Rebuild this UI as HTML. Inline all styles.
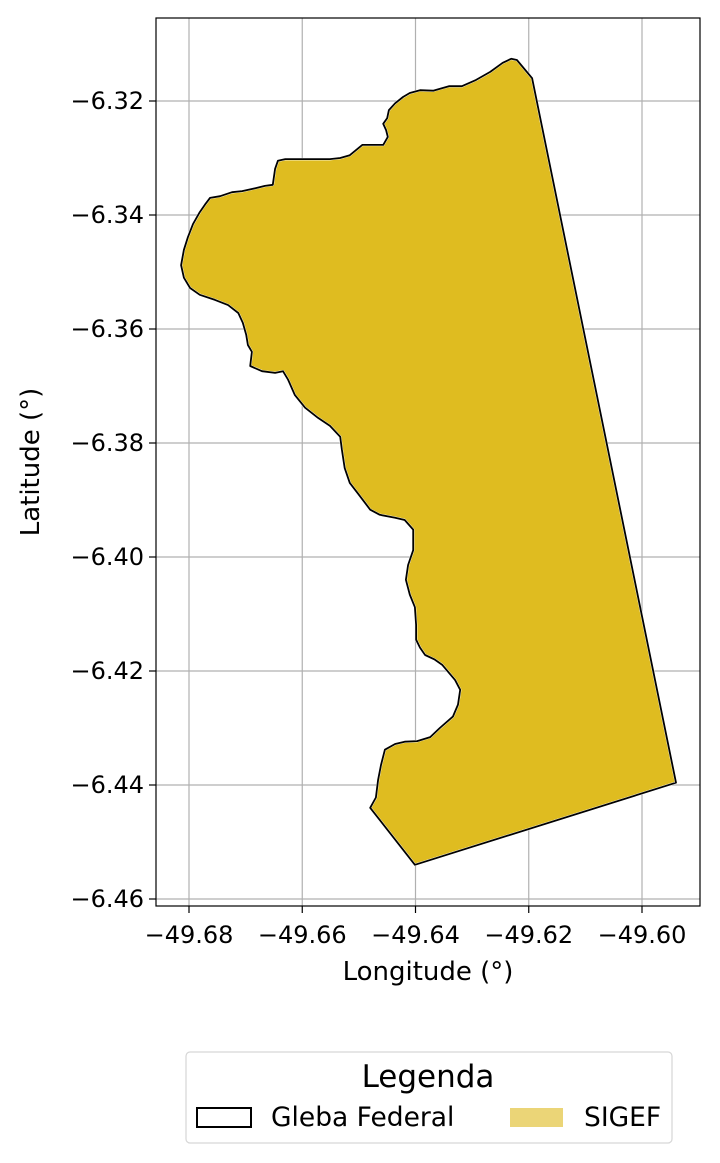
<!DOCTYPE html>
<html><head><meta charset="utf-8"><style>
html,body{margin:0;padding:0;background:#fff;}
svg{display:block;font-family:"DejaVu Sans","Liberation Sans",sans-serif;}
</style></head><body>
<svg id="chart" width="720" height="1163" viewBox="0 0 720 1163">
<g id="grid"></g>
<g id="shapes"></g>
<rect x="156" y="18" width="544" height="888" fill="none" stroke="#000" stroke-width="1.2"/>
<g id="ticks"></g>
<text x="428" y="980" font-size="26" text-anchor="middle">Longitude (°)</text>
<text transform="translate(39,462) rotate(-90)" font-size="26" text-anchor="middle">Latitude (°)</text>
<g>
<rect x="186" y="1052" width="486" height="91" rx="4" fill="#fff" stroke="#d6d6d6" stroke-width="1.2"/>
<text x="428" y="1087" font-size="31" text-anchor="middle">Legenda</text>
<rect x="197" y="1108" width="54" height="19" fill="#fff" stroke="#000" stroke-width="2"/>
<text x="271" y="1126" font-size="26.5">Gleba Federal</text>
<rect x="510" y="1108" width="53" height="19" fill="#ebd577"/>
<text x="584" y="1126" font-size="26.5">SIGEF</text>
</g>
</svg>
<script>
const lons = [-49.6194,-49.6221,-49.6231,-49.6246,-49.6268,-49.6293,-49.6318,-49.6341,-49.6369,-49.6392,-49.6410,-49.6422,-49.6436,-49.6447,-49.6450,-49.6457,-49.6452,-49.6449,-49.6457,-49.6480,-49.6494,-49.6516,-49.6533,-49.6551,-49.6578,-49.6604,-49.6630,-49.6643,-49.6648,-49.6652,-49.6666,-49.6683,-49.6706,-49.6724,-49.6745,-49.6763,-49.6772,-49.6781,-49.6793,-49.6802,-49.6809,-49.6814,-49.6809,-49.6798,-49.6781,-49.6754,-49.6731,-49.6713,-49.6705,-49.6699,-49.6696,-49.6689,-49.6692,-49.6671,-49.6648,-49.6634,-49.6625,-49.6613,-49.6595,-49.6572,-49.6551,-49.6533,-49.6530,-49.6525,-49.6516,-49.6502,-49.6489,-49.6480,-49.6463,-49.6436,-49.6419,-49.6404,-49.6404,-49.6413,-49.6417,-49.6410,-49.6401,-49.6399,-49.6399,-49.6392,-49.6383,-49.6366,-49.6353,-49.6330,-49.6321,-49.6325,-49.6334,-49.6357,-49.6374,-49.6397,-49.6419,-49.6436,-49.6454,-49.6461,-49.6466,-49.6470,-49.6480,-49.6401,-49.5940];
const lats = [-6.3160,-6.3128,-6.3126,-6.3133,-6.3149,-6.3163,-6.3174,-6.3174,-6.3182,-6.3181,-6.3186,-6.3193,-6.3204,-6.3216,-6.3230,-6.3240,-6.3251,-6.3263,-6.3277,-6.3277,-6.3277,-6.3295,-6.3300,-6.3302,-6.3302,-6.3302,-6.3302,-6.3305,-6.3319,-6.3347,-6.3349,-6.3353,-6.3358,-6.3360,-6.3367,-6.3370,-6.3382,-6.3395,-6.3416,-6.3439,-6.3461,-6.3488,-6.3510,-6.3528,-6.3540,-6.3549,-6.3558,-6.3572,-6.3589,-6.3610,-6.3628,-6.3640,-6.3665,-6.3674,-6.3677,-6.3674,-6.3689,-6.3716,-6.3738,-6.3756,-6.3770,-6.3789,-6.3812,-6.3844,-6.3870,-6.3888,-6.3905,-6.3917,-6.3926,-6.3931,-6.3935,-6.3952,-6.3988,-6.4014,-6.4040,-6.4066,-6.4088,-6.4119,-6.4145,-6.4159,-6.4172,-6.4180,-6.4189,-6.4216,-6.4233,-6.4259,-6.4280,-6.4300,-6.4316,-6.4323,-6.4324,-6.4328,-6.4338,-6.4365,-6.4391,-6.4422,-6.4440,-6.4540,-6.4396];
const xTicks = [-49.68,-49.66,-49.64,-49.62,-49.60];
const yTicks = [-6.32,-6.34,-6.36,-6.38,-6.40,-6.42,-6.44,-6.46];
const xTickLabels = ["\u221249.68","\u221249.66","\u221249.64","\u221249.62","\u221249.60"];
const yTickLabels = ["\u22126.32","\u22126.34","\u22126.36","\u22126.38","\u22126.40","\u22126.42","\u22126.44","\u22126.46"];

const NS="http://www.w3.org/2000/svg";
function xs(v){return 189+(v+49.68)/0.02*113.25;}
function ys(v){return 101+(-6.32-v)/0.02*114;}
const grid=document.getElementById('grid'), ticks=document.getElementById('ticks'), shapes=document.getElementById('shapes');
function mk(tag,attrs,parent){const e=document.createElementNS(NS,tag);for(const k in attrs)e.setAttribute(k,attrs[k]);parent.appendChild(e);return e;}
xTicks.forEach((t,i)=>{
  const x=xs(t);
  const g=mk('line',{x1:x,x2:x,y1:18,y2:906,stroke:'#b0b0b0','stroke-width':1.2},grid);
  
  
  const tk=mk('line',{x1:x,x2:x,y1:906,y2:913,stroke:'#000','stroke-width':1.2},ticks);
  
  
  const tx=mk('text',{x:x,y:943,'font-size':24,'text-anchor':'middle'},ticks);
  tx.textContent=xTickLabels[i];
  
  
});
yTicks.forEach((t,i)=>{
  const y=ys(t);
  const g=mk('line',{x1:156,x2:700,y1:y,y2:y,stroke:'#b0b0b0','stroke-width':1.2},grid);
  
  
  const tk=mk('line',{x1:149,x2:156,y1:y,y2:y,stroke:'#000','stroke-width':1.2},ticks);
  
  
  const tx=mk('text',{x:144,y:y+8,'font-size':24,'text-anchor':'end'},ticks);
  tx.textContent=yTickLabels[i];
  
  
});
const pts=lons.map((lo,i)=>xs(lo).toFixed(1)+','+ys(lats[i]).toFixed(1)).join(' ');
const fill=mk('polygon',{points:pts,fill:'#dfbc20',stroke:'#fff','stroke-width':2.5,'stroke-linejoin':'round'},shapes);


const outline=mk('polygon',{points:pts,fill:'none',stroke:'#000','stroke-width':1.8,'stroke-linejoin':'round'},shapes);


</script>
</body></html>
